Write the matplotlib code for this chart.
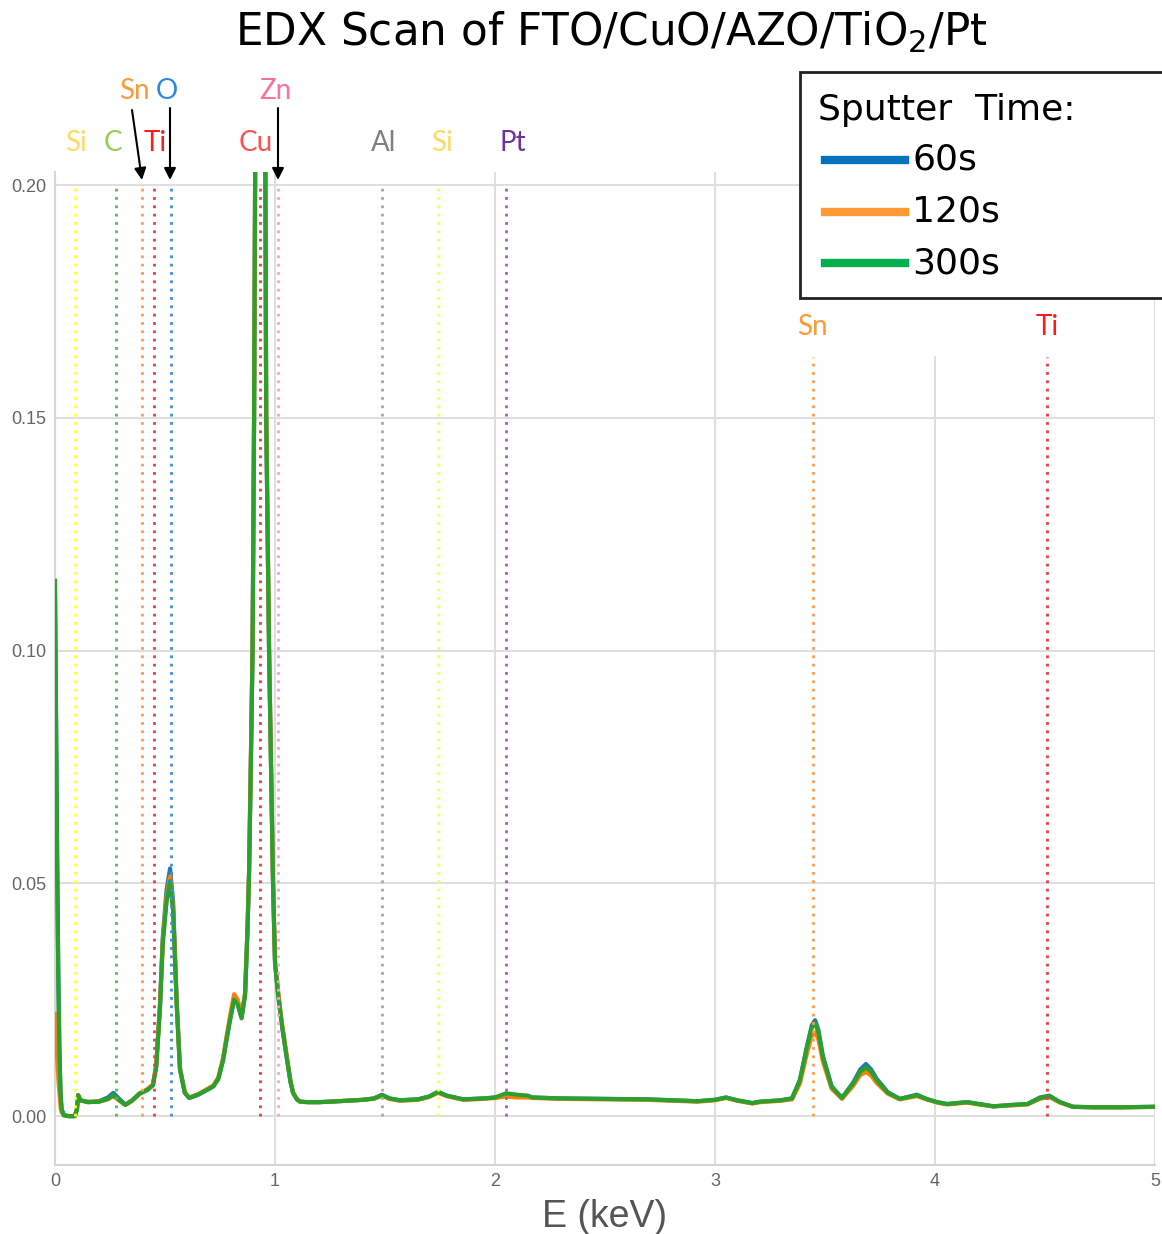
import matplotlib
matplotlib.use("Agg")
import matplotlib.pyplot as plt
from matplotlib.patches import Rectangle, FancyArrowPatch
from matplotlib.lines import Line2D

# ---- spectrum data (energy in keV, normalised counts) ----
energy = [0.000, 0.005, 0.010, 0.015, 0.020, 0.025, 0.030, 0.040, 0.060, 0.090,
          0.100, 0.105, 0.115, 0.150, 0.200, 0.240, 0.265, 0.290, 0.320, 0.350,
          0.385, 0.420, 0.445, 0.460, 0.477, 0.490, 0.507, 0.523, 0.537, 0.553,
          0.568, 0.590, 0.610, 0.650, 0.690, 0.720, 0.742, 0.764, 0.780, 0.795,
          0.814, 0.830, 0.848, 0.864, 0.875, 0.882, 0.890, 0.898, 0.905, 0.910,
          0.920, 0.935, 0.950, 0.956, 0.960, 0.973, 0.991, 1.000, 1.014, 1.030,
          1.053, 1.070, 1.082, 1.100, 1.114, 1.150, 1.200, 1.250, 1.327, 1.400,
          1.450, 1.486, 1.520, 1.568, 1.650, 1.700, 1.741, 1.780, 1.855, 1.950,
          2.000, 2.050, 2.100, 2.150, 2.170, 2.300, 2.500, 2.690, 2.800, 2.920,
          3.000, 3.050, 3.100, 3.170, 3.205, 3.300, 3.350, 3.386, 3.418, 3.440,
          3.455, 3.470, 3.490, 3.530, 3.577, 3.628, 3.660, 3.686, 3.710, 3.735,
          3.786, 3.840, 3.918, 3.960, 4.010, 4.055, 4.145, 4.200, 4.265, 4.350,
          4.420, 4.477, 4.520, 4.568, 4.627, 4.720, 4.850, 5.000]

counts_60s = [0.112, 0.083, 0.054, 0.030, 0.014, 0.005, 0.0015, 0.0002, 0.0000, 0.0000,
              0.0015, 0.0045, 0.0034, 0.0030, 0.0032, 0.0040, 0.0050, 0.0038, 0.0025, 0.0034,
              0.0049, 0.0057, 0.0067, 0.0108, 0.0238, 0.0385, 0.0485, 0.0532, 0.0460, 0.0248,
              0.0103, 0.0050, 0.0039, 0.0046, 0.0056, 0.0064, 0.0080, 0.0121, 0.0166, 0.0206,
              0.0252, 0.0242, 0.0212, 0.0262, 0.0402, 0.0520, 0.0750, 0.1000, 0.1500, 0.2050,
              0.2400, 0.2550, 0.2300, 0.2050, 0.1500, 0.1000, 0.0500, 0.0330, 0.0262, 0.0200,
              0.0127, 0.0075, 0.0050, 0.0036, 0.0031, 0.0030, 0.0030, 0.0031, 0.0033, 0.0035,
              0.0038, 0.0046, 0.0038, 0.0034, 0.0036, 0.0042, 0.0052, 0.0044, 0.0036, 0.0038,
              0.0040, 0.0046, 0.0044, 0.0042, 0.0040, 0.0038, 0.0037, 0.0036, 0.0034, 0.0032,
              0.0035, 0.0040, 0.0034, 0.0028, 0.0031, 0.0034, 0.0038, 0.0078, 0.0150, 0.0195,
              0.0206, 0.0185, 0.0130, 0.0064, 0.0039, 0.0072, 0.0100, 0.0112, 0.0100, 0.0080,
              0.0051, 0.0037, 0.0046, 0.0037, 0.0030, 0.0026, 0.0030, 0.0026, 0.0021, 0.0024,
              0.0026, 0.0040, 0.0044, 0.0030, 0.0020, 0.0019, 0.0019, 0.0020]

counts_120s = [0.022, 0.017, 0.012, 0.008, 0.005, 0.002, 0.0008, 0.0002, 0.0000, 0.0000,
               0.0015, 0.0045, 0.0034, 0.0031, 0.0031, 0.0036, 0.0043, 0.0034, 0.0024, 0.0033,
               0.0049, 0.0058, 0.0068, 0.0108, 0.0235, 0.0378, 0.0470, 0.0515, 0.0448, 0.0245,
               0.0102, 0.0051, 0.0040, 0.0047, 0.0058, 0.0066, 0.0083, 0.0125, 0.0172, 0.0213,
               0.0262, 0.0250, 0.0218, 0.0265, 0.0405, 0.0525, 0.0760, 0.1010, 0.1520, 0.2080,
               0.2420, 0.2560, 0.2320, 0.2080, 0.1520, 0.1010, 0.0505, 0.0335, 0.0270, 0.0205,
               0.0130, 0.0076, 0.0050, 0.0036, 0.0031, 0.0030, 0.0030, 0.0031, 0.0033, 0.0035,
               0.0037, 0.0044, 0.0037, 0.0033, 0.0035, 0.0041, 0.0050, 0.0043, 0.0035, 0.0037,
               0.0039, 0.0042, 0.0040, 0.0040, 0.0039, 0.0037, 0.0036, 0.0035, 0.0033, 0.0031,
               0.0034, 0.0039, 0.0033, 0.0027, 0.0030, 0.0033, 0.0036, 0.0070, 0.0135, 0.0172,
               0.0180, 0.0165, 0.0118, 0.0059, 0.0037, 0.0065, 0.0088, 0.0095, 0.0087, 0.0071,
               0.0048, 0.0036, 0.0043, 0.0036, 0.0029, 0.0025, 0.0029, 0.0025, 0.0021, 0.0023,
               0.0025, 0.0037, 0.0041, 0.0029, 0.0020, 0.0019, 0.0019, 0.0020]

counts_300s = [0.115, 0.085, 0.055, 0.030, 0.014, 0.005, 0.0015, 0.0002, 0.0000, 0.0000,
               0.0015, 0.0045, 0.0034, 0.0030, 0.0031, 0.0037, 0.0045, 0.0035, 0.0024, 0.0033,
               0.0048, 0.0056, 0.0066, 0.0105, 0.0230, 0.0370, 0.0460, 0.0505, 0.0440, 0.0240,
               0.0100, 0.0050, 0.0039, 0.0046, 0.0056, 0.0064, 0.0080, 0.0120, 0.0165, 0.0205,
               0.0250, 0.0240, 0.0210, 0.0260, 0.0400, 0.0520, 0.0750, 0.1000, 0.1500, 0.2050,
               0.2400, 0.2550, 0.2300, 0.2050, 0.1500, 0.1000, 0.0500, 0.0330, 0.0260, 0.0200,
               0.0127, 0.0075, 0.0050, 0.0036, 0.0031, 0.0030, 0.0030, 0.0031, 0.0033, 0.0035,
               0.0038, 0.0045, 0.0038, 0.0034, 0.0036, 0.0042, 0.0052, 0.0044, 0.0036, 0.0038,
               0.0040, 0.0049, 0.0046, 0.0044, 0.0040, 0.0038, 0.0037, 0.0036, 0.0034, 0.0032,
               0.0035, 0.0040, 0.0034, 0.0028, 0.0031, 0.0034, 0.0038, 0.0077, 0.0148, 0.0190,
               0.0200, 0.0180, 0.0127, 0.0063, 0.0039, 0.0070, 0.0095, 0.0105, 0.0095, 0.0077,
               0.0050, 0.0037, 0.0045, 0.0037, 0.0030, 0.0026, 0.0030, 0.0026, 0.0021, 0.0024,
               0.0026, 0.0039, 0.0043, 0.0030, 0.0020, 0.0019, 0.0019, 0.0020]

series_labels = ["60s", "120s", "300s"]
series_colors = ["#1f77b4", "#ff7f0e", "#2ca02c"]
legend_colors = ["#0070c0", "#ff9933", "#00b050"]

# ---- characteristic line energies (keV) ----
line_elements = ["Si", "C", "Sn", "Ti", "O", "Cu", "Zn", "Al", "Si", "Pt", "Sn", "Ti"]
line_energies = [0.092, 0.277, 0.397, 0.452, 0.525, 0.930, 1.012, 1.487, 1.740, 2.050, 3.444, 4.510]
line_colors = ["#ffff33", "#5cb85c", "#ff9d4d", "#ee3b3b", "#3a8fd9", "#ee3b3b",
               "#ff9ccf", "#a8a8a8", "#ffff33", "#a05cc8", "#ff9d4d", "#ee3b3b"]
line_tops = [0.20, 0.20, 0.20, 0.20, 0.20, 0.20, 0.20, 0.20, 0.20, 0.20, 0.163, 0.163]

title_text = "EDX Scan of FTO/CuO/AZO/TiO$_2$/Pt"

W, H = 1162, 1234
fig = plt.figure(figsize=(W / 100, H / 100), dpi=100)


def fx(px):
    return px / W


def fy(py):
    return 1 - py / H


ax = fig.add_axes([fx(55), fy(1165), fx(1155) - fx(55), fy(172) - fy(1165)])
ax.set_xlim(0, 5)
ax.set_ylim(-0.0105, 0.2028)

for vals, lab, col in zip([counts_60s, counts_120s, counts_300s], series_labels, series_colors):
    ax.plot(energy, vals, color=col, lw=3.0, label=lab, zorder=3, solid_joinstyle="round")

for e, col, top in zip(line_energies, line_colors, line_tops):
    ax.vlines(e, 0, top, colors=col, linestyles=(0, (1, 2)), lw=2.0, zorder=4)

ax.set_xticks([0, 1, 2, 3, 4, 5])
ax.set_yticks([0.0, 0.05, 0.10, 0.15, 0.20])
ax.set_yticklabels(["0.00", "0.05", "0.10", "0.15", "0.20"])
ax.grid(True, color="#dedede", lw=1.5, zorder=0)
ax.set_axisbelow(True)
for s in ["top", "right"]:
    ax.spines[s].set_visible(False)
for s in ["left", "bottom"]:
    ax.spines[s].set_color("#d6d6d6")
    ax.spines[s].set_linewidth(1.5)
ax.tick_params(length=0, colors="#666666", labelsize=13, pad=6)
for t in ax.get_xticklabels() + ax.get_yticklabels():
    t.set_fontfamily("Liberation Sans")
ax.set_xlabel("E (keV)", fontsize=27, color="#555555", family="Liberation Sans", labelpad=6)

# white panel behind the legend and the upper-right labels
fig.add_artist(Rectangle((fx(790), fy(356)), fx(1140) - fx(790), fy(298) - fy(356),
                         transform=fig.transFigure, facecolor="white", edgecolor="none", zorder=5))

# legend box
fig.add_artist(Rectangle((fx(800), fy(298)), fx(1175) - fx(800), fy(72) - fy(298),
                         transform=fig.transFigure, facecolor="white", edgecolor="#222222",
                         lw=2, zorder=6))
fig.text(fx(818), fy(110), "Sputter  Time:", fontsize=26, family="DejaVu Sans",
         va="center", ha="left", zorder=7)
for i, (lab, col) in enumerate(zip(series_labels, legend_colors)):
    yy = 160 + 51.5 * i
    fig.add_artist(Line2D([fx(825), fx(905)], [fy(yy), fy(yy)], color=col, lw=6,
                          transform=fig.transFigure, zorder=7))
    fig.text(fx(912), fy(yy), lab, fontsize=26, family="DejaVu Sans", va="center",
             ha="left", zorder=7)

# element labels
label_text = ["Si", "C", "Ti", "Cu", "Al", "Si", "Pt", "Sn", "O", "Zn", "Sn", "Ti"]
label_x = [76, 113, 155, 256, 384, 442, 513, 134, 167, 275, 812, 1047]
label_y = [143, 143, 143, 143, 143, 143, 143, 91, 91, 91, 327, 327]
label_colors = ["#ffd966", "#92d050", "#ff1a1a", "#ff5050", "#808080", "#ffd966",
                "#7030a0", "#ff9933", "#2e86de", "#ff6f9f", "#ff9933", "#ff1a1a"]
for t, x, y, c in zip(label_text, label_x, label_y, label_colors):
    fig.text(fx(x), fy(y), t, fontsize=20, family="Lato", color=c,
             ha="center", va="center", zorder=7)

# arrows from the upper labels down to their lines
arrow_start = [(132, 110), (170, 108), (278, 108)]
arrow_end = [(142, 180), (170, 180), (278, 180)]
for (x0, y0), (x1, y1) in zip(arrow_start, arrow_end):
    fig.add_artist(FancyArrowPatch((fx(x0), fy(y0)), (fx(x1), fy(y1)),
                                   transform=fig.transFigure,
                                   arrowstyle="-|>,head_length=7,head_width=3.5",
                                   color="black", lw=1.5, zorder=8,
                                   shrinkA=0, shrinkB=0))

fig.text(fx(611), fy(32), title_text, fontsize=31.5, family="DejaVu Sans",
         ha="center", va="center")

fig.savefig("out.png", dpi=100, facecolor="white")
